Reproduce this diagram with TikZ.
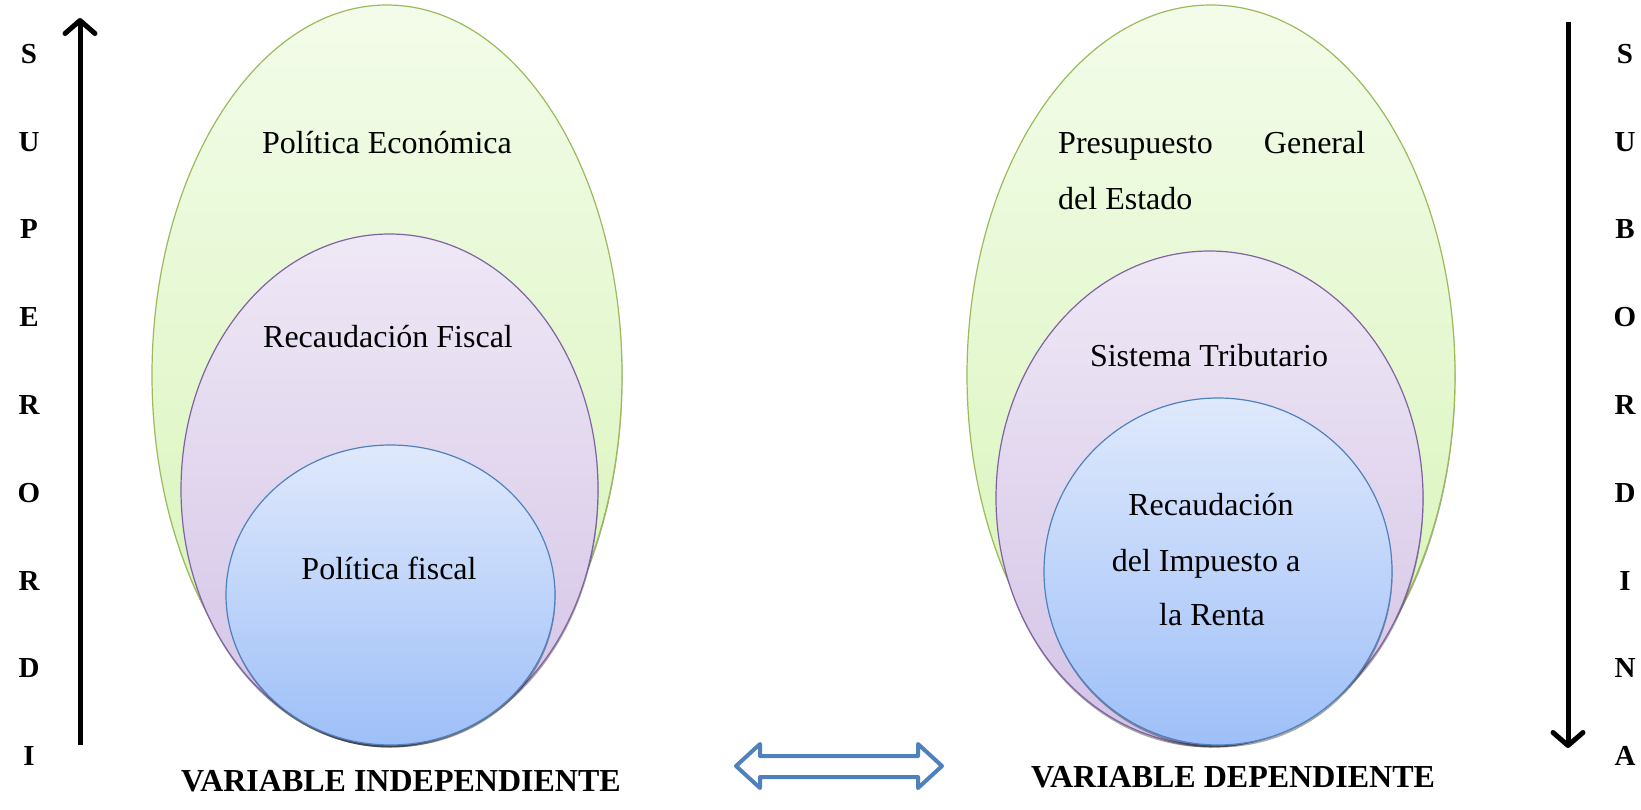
\documentclass[tikz,border=0pt]{standalone}
\usepackage{fontspec}
\setmainfont{Liberation Serif}
\usetikzlibrary{arrows.meta,shadows,shapes.geometric}
\definecolor{gfill1}{HTML}{F3FCEA}
\definecolor{gfill2}{HTML}{D6F3B4}
\definecolor{gline}{HTML}{9BBB59}
\definecolor{pfill1}{HTML}{EFE8F6}
\definecolor{pfill2}{HTML}{D3C3E6}
\definecolor{pline}{HTML}{8064A2}
\definecolor{bfill1}{HTML}{DFE9FC}
\definecolor{bfill2}{HTML}{9EBFF8}
\definecolor{bline}{HTML}{4F81BD}
\tikzset{
  oval/.style={ellipse, inner sep=0pt, line width=1.2pt,
    drop shadow={shadow xshift=0.5pt, shadow yshift=-2.5pt, opacity=0.35, fill=black}},
  greenoval/.style={oval, draw=gline, top color=gfill1, bottom color=gfill2},
  purpleoval/.style={oval, draw=pline, top color=pfill1, bottom color=pfill2},
  blueoval/.style={oval, draw=bline, top color=bfill1, bottom color=bfill2},
  lbl/.style={font=\fontsize{32}{55}\selectfont, inner sep=0pt, anchor=base},
  caplbl/.style={font=\fontsize{32}{36}\selectfont\bfseries, inner sep=0pt, anchor=center},
  letter/.style={font=\fontsize{29}{34}\selectfont\bfseries, inner sep=0pt, anchor=center},
  bigarrow/.style={line width=5pt, -{Straight Barb[length=13pt,width=30pt,round]}},
}
\begin{document}
\begin{tikzpicture}[x=1pt,y=-1pt]
\useasboundingbox (0,0) rectangle (1641,809);
% left group
\node[greenoval, minimum width=470, minimum height=740] (gl) at (387,375) {};
\node[purpleoval, minimum width=417, minimum height=511] (pl) at (389.5,489.5) {};
\node[blueoval, minimum width=329, minimum height=300] (bl) at (390.5,595) {};
\node[lbl] (tgl) at (387,153) {Política Económica};
\node[lbl] (tpl) at (388,347) {Recaudación Fiscal};
\node[lbl] (tbl) at (389,579) {Política fiscal};
% right group
\node[greenoval, minimum width=488, minimum height=740] (gr) at (1211,375) {};
\node[purpleoval, minimum width=427, minimum height=494] (pr) at (1209.5,498) {};
\node[blueoval, minimum width=348, minimum height=347] (br) at (1218,571.5) {};
\node[lbl, anchor=base west] (tgr1) at (1058,153) {\makebox[307pt][s]{Presupuesto\hfill General}};
\node[lbl, anchor=base west] (tgr2) at (1058,209) {del Estado};
\node[lbl] (tpr) at (1209,366) {Sistema Tributario};
\node[lbl] (tbr1) at (1211,515) {Recaudación};
\node[lbl] (tbr2) at (1206,571) {del Impuesto a};
\node[lbl] (tbr3) at (1212,625) {la Renta};
% captions
\node[caplbl] (vi) at (401,781) {VARIABLE INDEPENDIENTE};
\node[caplbl] (vd) at (1233,777) {VARIABLE DEPENDIENTE};
% double arrow
\draw[draw=bline, fill=white, line width=4pt, line join=round]
  (736,766) -- (760,744) -- (760,756) -- (918,756) -- (918,744) -- (942,766)
  -- (918,788) -- (918,777) -- (760,777) -- (760,788) -- cycle;
% vertical arrows
\coordinate (la1) at (80,745);
\coordinate (la2) at (80,18);
\draw[bigarrow] (la1) -- (la2);
\coordinate (ra1) at (1568,22);
\coordinate (ra2) at (1568,748);
\draw[bigarrow] (ra1) -- (ra2);
% letters
\foreach \ch [count=\i from 0] in {S,U,P,E,R,O,R,D,I} {
  \node[letter] (L\i) at (29,54+87.75*\i) {\ch};
}
\foreach \ch [count=\i from 0] in {S,U,B,O,R,D,I,N,A} {
  \node[letter] (R\i) at (1625,54+87.75*\i) {\ch};
}
\end{tikzpicture}
\end{document}
